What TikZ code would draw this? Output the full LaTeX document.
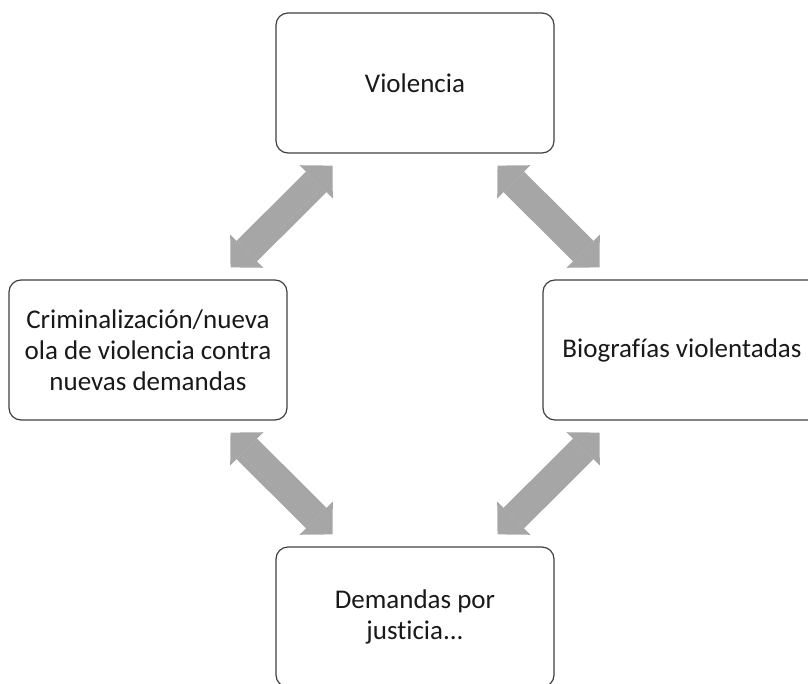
\documentclass[tikz,border=0pt]{standalone}
\usepackage{fontspec}
\setmainfont[RawFeature={-liga;-clig;-dlig;-calt}]{Carlito}
\usetikzlibrary{arrows.meta}

\def\boxsep{267pt}

\begin{document}
\begin{tikzpicture}[x=1pt,y=1pt]
    \tikzstyle{stage}=[draw=black!75, line width=1.2pt, rounded corners=12pt, fill=white, minimum width=278pt, minimum height=140pt, inner sep=0pt, align=center, font=\fontsize{27}{31}\selectfont, text=black!90]
    \tikzstyle{cycle arrow}=[draw=black!35, line width=29pt, {Triangle[length=23pt,width=47pt,line width=0pt]}-{Triangle[length=23pt,width=47pt,line width=0pt]}, shorten >=17pt, shorten <=17pt]

    \useasboundingbox (-415,-333) rectangle (393,350);

    % Draw the four stages of the cycle
    \node[stage] (viol) at (0,\boxsep) {Violencia};
    \node[stage] (crim) at (-\boxsep,0) {Criminalización/nueva\\ola de violencia contra\\nuevas demandas};
    \node[stage] (bio) at (\boxsep,0) {Biografías violentadas};
    \node[stage] (dem) at (0,-\boxsep) {Demandas por\\justicia...};

    % Connect neighbouring stages with double arrows
    \foreach \source / \dest in {crim/viol, viol/bio, crim/dem, dem/bio}
        \draw[cycle arrow] (\source) -- (\dest);
\end{tikzpicture}
\end{document}
